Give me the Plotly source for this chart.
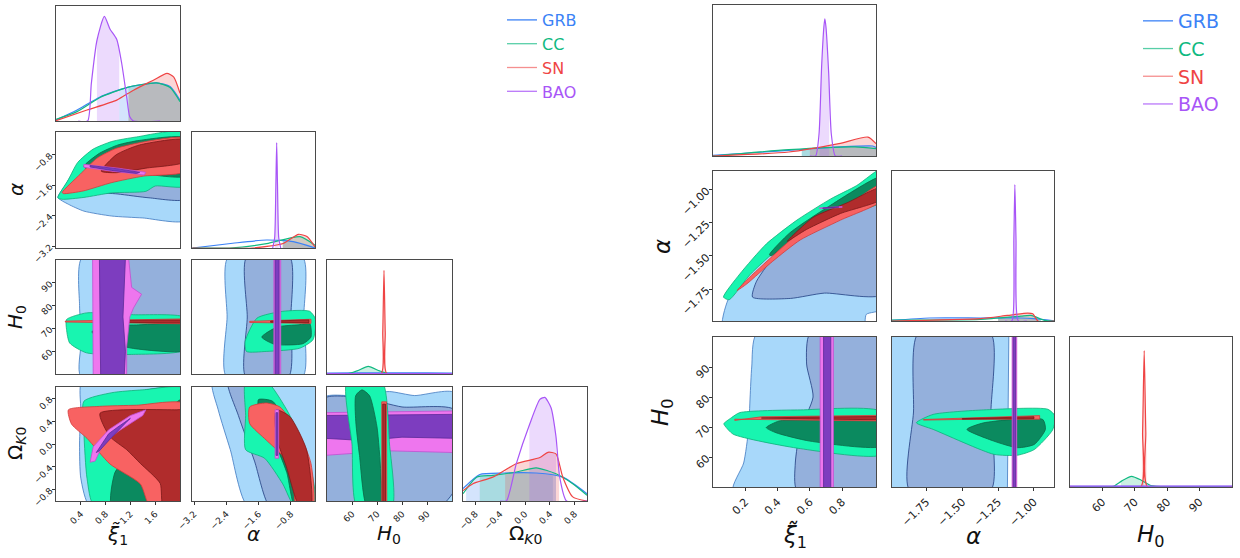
import numpy as np
import plotly.graph_objects as go

W, H = 1240, 558

# ---------------- data: series names / colours ----------------
SERIES = ["GRB", "CC", "SN", "BAO"]
LINE_COL = {"GRB": "#3b82f6", "CC": "#10b981", "SN": "#ef4444", "BAO": "#a855f7"}
FILL_1D = {"GRB": "rgba(59,130,246,0.22)", "CC": "rgba(16,185,129,0.22)",
           "SN": "rgba(239,68,68,0.22)", "BAO": "rgba(168,85,247,0.22)"}
# (2-sigma fill, 1-sigma fill, 2-sigma edge, 1-sigma edge)
CONT = {"GRB": ("#a8d8fa", "#94b0dc", "#3f78c0", "#1f3c80"),
        "CC": ("#18f5b0", "#0b8a5f", "#10b07a", "#0a6a48"),
        "SN": ("#f86262", "#b02c2c", "#d43a3a", "#7a1818"),
        "BAO": ("#ee76ee", "#7d3dbf", "#c24fd0", "#5a2a98")}

# ---------------- tick labels ----------------
L_XI_TICKS = [0.4, 0.8, 1.2, 1.6]; L_XI_TXT = ["0.4", "0.8", "1.2", "1.6"]
L_AL_TICKS = [-3.2, -2.4, -1.6, -0.8]; L_AL_TXT = ["−3.2", "−2.4", "−1.6", "−0.8"]
L_H0_TICKS = [60, 70, 80, 90]; L_H0_TXT = ["60", "70", "80", "90"]
L_OK_TICKS = [-0.8, -0.4, 0.0, 0.4, 0.8]; L_OK_TXT = ["−0.8", "−0.4", "0.0", "0.4", "0.8"]
R_XI_TICKS = [0.2, 0.4, 0.6, 0.8]; R_XI_TXT = ["0.2", "0.4", "0.6", "0.8"]
R_AL_TICKS = [-1.75, -1.5, -1.25, -1.0]; R_AL_TXT = ["−1.75", "−1.50", "−1.25", "−1.00"]
R_H0_TICKS = [60, 70, 80, 90]; R_H0_TXT = ["60", "70", "80", "90"]

# ---------------- 1D marginals (normalised heights) ----------------
L_XI_1D = {
    "GRB": ([0, 0.34, 0.71, 1.14, 1.62, 1.84, 2.0], [0.01, 0.105, 0.23, 0.32, 0.365, 0.33, 0.2]),
    "CC": ([0, 0.34, 0.71, 1.14, 1.62, 1.84, 2.0], [0.016, 0.09, 0.225, 0.32, 0.365, 0.32, 0.185]),
    "SN": ([0, 0.5, 0.98, 1.25, 1.57, 1.79, 1.9, 2.0], [0.003, 0.105, 0.2, 0.295, 0.39, 0.455, 0.42, 0.265]),
    "BAO": ([0.36, 0.51, 0.57, 0.66, 0.78, 0.87, 0.98, 1.06, 1.14, 1.19, 1.25, 1.68],
            [0, 0, 0.36, 0.77, 1.0, 0.88, 0.78, 0.55, 0.23, 0.04, 0, 0]),
}
L_XI_1D_INT = {"GRB": (1.02, 2.0), "CC": (1.17, 2.0), "SN": (1.17, 2.0), "BAO": (0.66, 1.02)}

L_AL_1D = {
    "GRB": ([-3.24, -2.24, -1.40, -0.74, -0.2], [0, 0.045, 0.076, 0.06, 0]),
    "CC": ([-3.24, -2.32, -1.4, -0.57, -0.2], [0, 0, 0.041, 0.108, 0.026]),
    "SN": ([-3.24, -1.74, -0.99, -0.61, -0.4, -0.2], [0, 0, 0.043, 0.13, 0.108, 0.01]),
    "BAO": ([-1.25, -1.20, -1.17, -1.15, -1.13, -1.10, -1.05], [0, 0.1, 0.6, 1.0, 0.6, 0.1, 0]),
}
L_AL_1D_INT = {"GRB": (-1.0, -0.2), "CC": (-1.0, -0.2), "SN": (-1.0, -0.2), "BAO": (-1.2, -1.1)}

L_H0_1D = {
    "GRB": ([50, 60, 70, 80, 90, 100], [0.008, 0.01, 0.012, 0.012, 0.01, 0.008]),
    "CC": ([50, 58, 62, 66.5, 71, 75, 100], [0, 0, 0.03, 0.073, 0.03, 0, 0]),
    "SN": ([50, 71.6, 72.3, 72.8, 73.3, 74.0, 100], [0, 0, 0.4, 1.0, 0.4, 0, 0]),
    "BAO": ([50, 60, 70, 80, 90, 100], [0.003, 0.003, 0.003, 0.003, 0.003, 0.003]),
}
L_H0_1D_INT = {"GRB": (50, 100), "CC": (62, 71), "SN": (72.0, 73.6), "BAO": (50, 100)}

L_OK_1D = {
    "GRB": ([-1, -0.73, -0.35, 0.18, 0.61, 1.0], [0.12, 0.256, 0.27, 0.27, 0.23, 0.07]),
    "CC": ([-1, -0.78, -0.52, -0.14, 0.18, 0.5, 0.77, 1.0], [0.07, 0.23, 0.247, 0.28, 0.32, 0.263, 0.167, 0.055]),
    "SN": ([-1, -0.84, -0.52, -0.14, 0.24, 0.37, 0.5, 0.61, 0.77, 1.0],
           [0.1, 0.167, 0.23, 0.36, 0.42, 0.47, 0.455, 0.23, 0.04, 0]),
    "BAO": ([-0.4, -0.3, -0.14, 0.075, 0.24, 0.32, 0.42, 0.5, 0.56, 0.67, 1.0],
            [0, 0, 0.36, 0.74, 0.98, 1.0, 0.9, 0.62, 0.23, 0, 0]),
}
L_OK_1D_INT = {"GRB": (-0.95, 0.45), "CC": (-0.73, 0.5), "SN": (-0.32, 0.55), "BAO": (0.07, 0.5)}

R_XI_1D = {
    "GRB": ([0, 0.47, 0.78, 0.99, 1.01], [0.005, 0.041, 0.066, 0.073, 0.063]),
    "CC": ([0, 0.47, 0.88, 1.01], [0, 0.046, 0.066, 0.053]),
    "SN": ([0, 0.47, 0.78, 0.96, 1.01], [0, 0.029, 0.09, 0.138, 0.09]),
    "BAO": ([0.6, 0.636, 0.657, 0.673, 0.687, 0.693, 0.70, 0.717, 0.733, 0.758, 0.8],
            [0, 0, 0.16, 0.65, 0.94, 1.0, 0.94, 0.6, 0.16, 0, 0]),
}
R_XI_1D_INT = {"GRB": (0.55, 1.01), "CC": (0.55, 1.01), "SN": (0.6, 1.01), "BAO": (0.66, 0.72)}

R_AL_1D = {
    "GRB": ([-1.99, -1.727, -1.373, -1.09, -1.0, -0.86], [0.005, 0.022, 0.022, 0.022, 0.017, 0.002]),
    "CC": ([-1.99, -1.373, -1.09, -1.02, -0.925, -0.86], [0.007, 0.012, 0.036, 0.041, 0.005, 0]),
    "SN": ([-1.99, -1.373, -1.185, -1.043, -1.008, -0.972, -0.86], [0, 0.017, 0.041, 0.058, 0.053, 0, 0]),
    "BAO": ([-1.2, -1.154, -1.14, -1.133, -1.125, -1.109, -1.05], [0, 0, 0.6, 1.0, 0.6, 0, 0]),
}
R_AL_1D_INT = {"GRB": (-1.25, -0.95), "CC": (-1.25, -0.95), "SN": (-1.25, -0.97), "BAO": (-1.145, -1.12)}

R_H0_1D = {
    "GRB": ([50, 60, 70, 80, 90, 100], [0.005, 0.005, 0.005, 0.005, 0.005, 0.005]),
    "CC": ([50, 60, 63.4, 66, 69, 72, 75, 80, 100], [0, 0, 0.005, 0.045, 0.078, 0.05, 0.01, 0, 0]),
    "SN": ([50, 71.8, 72.4, 72.9, 73.4, 74.0, 100], [0, 0, 0.4, 1.0, 0.4, 0, 0]),
    "BAO": ([50, 60, 70, 80, 90, 100], [0.006, 0.006, 0.006, 0.006, 0.006, 0.006]),
}
R_H0_1D_INT = {"GRB": (50, 100), "CC": (65.7, 72.8), "SN": (72.2, 73.6), "BAO": (50, 100)}

# ---------------- 2D credible regions: [2-sigma polygon, 1-sigma polygon] ----------------
L_XI_AL = {
    "GRB": [[(0.03, -1.92), (0.15, -1.6), (0.3, -1.2), (0.5, -0.85), (0.8, -0.55), (1.2, -0.38), (2.1, -0.3),
             (2.1, -2.52), (1.4, -2.46), (0.9, -2.41), (0.45, -2.28), (0.2, -2.1)],
            [(0.45, -1.25), (0.6, -1.05), (1.0, -0.9), (1.5, -0.72), (2.1, -0.62), (2.1, -1.96), (1.5, -1.93),
             (1.0, -1.83), (0.6, -1.76), (0.45, -1.55)]],
    "CC": [[(0.03, -1.93), (0.2, -1.45), (0.35, -1.0), (0.6, -0.65), (0.9, -0.45), (1.3, -0.33), (2.1, -0.2),
            (2.1, -1.62), (1.6, -1.62), (1.45, -1.76), (0.9, -1.8), (0.45, -1.92), (0.1, -1.97)],
           [(0.45, -1.1), (0.7, -0.76), (1.0, -0.54), (1.35, -0.42), (2.1, -0.36), (2.1, -1.35), (1.4, -1.3),
            (0.9, -1.25), (0.5, -1.18)]],
    "SN": [[(0.1, -1.79), (0.39, -1.31), (0.66, -0.89), (0.97, -0.63), (1.41, -0.46), (2.1, -0.37), (2.1, -1.23),
            (1.41, -1.36), (0.9, -1.53), (0.44, -1.75), (0.12, -1.82)],
           [(0.73, -1.23), (0.97, -0.8), (1.35, -0.54), (2.1, -0.41), (2.1, -0.97), (1.45, -1.15), (0.97, -1.27)]],
    "BAO": [[(0.45, -1.05), (1.0, -1.15), (1.45, -1.26), (1.42, -1.33), (0.9, -1.23), (0.45, -1.13)],
            [(0.55, -1.08), (1.0, -1.17), (1.35, -1.26), (1.3, -1.29), (0.9, -1.21), (0.55, -1.12)]],
}
L_XI_H0 = {
    "GRB": [[(0.42, 101), (2.1, 101), (2.1, 49), (0.40, 49), (0.41, 65), (0.38, 80)],
            [(1.05, 101), (2.1, 101), (2.1, 49), (1.0, 49), (1.1, 58), (1.17, 70), (1.12, 85)]],
    "CC": [[(0.17, 73.9), (0.49, 76.8), (1.25, 76.0), (2.1, 74.6), (2.1, 60.8), (1.25, 58.6), (0.49, 59.3),
            (0.22, 63.6), (0.17, 69.5)],
           [(0.58, 68.5), (0.8, 71), (1.3, 71.5), (2.1, 71.5), (2.1, 60.5), (1.3, 61), (0.8, 64)]],
    "SN": [[(0.15, 73.2), (0.8, 73.6), (2.1, 74.2), (2.1, 72.0), (0.8, 72.4), (0.15, 72.8)],
           [(0.85, 73.5), (2.1, 73.7), (2.1, 72.4), (0.85, 72.7)]],
    "BAO": [[(0.59, 101), (1.17, 101), (1.22, 88), (1.38, 85), (1.25, 79), (1.19, 75), (1.14, 62), (1.14, 49),
             (0.6, 49)],
            [(0.7, 101), (1.12, 101), (1.08, 75), (1.12, 60), (1.1, 49), (0.72, 49)]],
}
L_AL_H0 = {
    "GRB": [[(-2.36, 101), (-0.5, 101), (-0.48, 75), (-0.5, 49), (-2.4, 49), (-2.38, 75)],
            [(-1.9, 101), (-0.82, 101), (-0.8, 75), (-0.85, 49), (-1.92, 49), (-1.88, 75)]],
    "CC": [[(-1.93, 64.4), (-1.64, 74.5), (-1.0, 77.5), (-0.33, 77.5), (-0.18, 73.8), (-0.25, 65), (-0.58, 61.3),
            (-1.41, 59.9), (-1.9, 59.9)],
           [(-1.52, 66.2), (-1.14, 70.6), (-0.6, 71.6), (-0.33, 72.1), (-0.3, 66.2), (-0.5, 63.3), (-1.2, 63)]],
    "SN": [[(-1.82, 73.1), (-0.3, 74.0), (-0.3, 72.2), (-1.82, 72.6)],
           [(-1.3, 73.2), (-0.35, 73.7), (-0.35, 72.5), (-1.3, 72.7)]],
    "BAO": [[(-1.22, 101), (-1.05, 101), (-1.05, 49), (-1.22, 49)],
            [(-1.19, 101), (-1.09, 101), (-1.09, 49), (-1.19, 49)]],
}
L_XI_OK = {
    "GRB": [[(0.42, 1.1), (2.1, 1.1), (2.1, -1.1), (0.55, -1.1), (0.4, -0.6), (0.38, 0), (0.4, 0.6)],
            [(0.95, -1.1), (1.0, -0.3), (0.85, 0.1), (1.05, 0.55), (1.3, 0.9), (2.1, 0.95), (2.1, -1.1)]],
    "CC": [[(0.45, 0.75), (0.9, 0.9), (1.4, 0.95), (2.1, 0.97), (2.1, -1.1), (0.62, -1.1), (0.5, -0.6), (0.45, 0.2)],
           [(0.9, -1.1), (0.95, -0.5), (1.1, -0.3), (1.5, 0.1), (1.7, 0.5), (2.1, 0.82), (2.1, -1.1)]],
    "SN": [[(0.2, 0.6), (0.7, 0.66), (1.3, 0.68), (2.1, 0.7), (2.1, -1.1), (1.52, -1.1), (1.36, -0.7),
            (0.87, -0.35), (0.5, 0.1), (0.25, 0.35)],
           [(0.71, 0.54), (1.95, 0.6), (2.1, 0.6), (2.1, -1.1), (1.73, -1.1), (1.68, -0.69), (1.36, -0.34),
            (1.14, -0.1), (0.87, 0.13)]],
    "BAO": [[(0.55, -0.32), (0.6, -0.05), (0.85, 0.25), (1.2, 0.5), (1.45, 0.6), (1.4, 0.5), (1.0, 0.22),
             (0.75, -0.02), (0.63, -0.3)],
            [(0.65, -0.15), (0.85, 0.18), (1.0, 0.3), (1.2, 0.45), (1.15, 0.4), (0.9, 0.12), (0.7, -0.12)]],
}
L_AL_OK = {
    "GRB": [[(-2.74, 1.1), (-0.1, 1.1), (-0.1, -1.1), (-1.86, -1.1), (-2.3, -0.1), (-2.6, 0.6)],
            [(-2.36, 1.1), (-1.55, 1.1), (-1.2, 0.3), (-0.9, -0.5), (-0.66, -1.1), (-1.32, -1.1), (-1.7, -0.3),
             (-2.1, 0.5)]],
    "CC": [[(-1.92, 1.1), (-1.4, 1.1), (-0.9, 0.6), (-0.5, 0.0), (-0.25, -0.6), (-0.2, -1.1), (-0.7, -1.1),
            (-1.0, -0.7), (-1.45, -0.25), (-1.92, -0.1), (-1.92, 0.5)],
           [(-1.6, 0.78), (-1.25, 0.75), (-0.8, 0.2), (-0.45, -0.5), (-0.4, -1.1), (-0.7, -1.1), (-0.9, -0.5),
            (-1.3, 0.2), (-1.6, 0.6)]],
    "SN": [[(-1.82, 0.65), (-1.41, 0.72), (-1.07, 0.65), (-0.6, 0.2), (-0.3, -0.34), (-0.25, -1.1), (-0.66, -1.1),
            (-0.74, -0.68), (-0.99, -0.22), (-1.41, 0.07), (-1.82, 0.36)],
           [(-1.16, 0.6), (-0.82, 0.48), (-0.41, -0.1), (-0.3, -1.1), (-0.58, -1.1), (-0.91, -0.4), (-1.16, 0.13)]],
    "BAO": [[(-1.19, 0.6), (-1.1, 0.6), (-1.1, -0.25), (-1.19, -0.25)],
            [(-1.165, 0.55), (-1.125, 0.55), (-1.125, -0.2), (-1.165, -0.2)]],
}
L_H0_OK = {
    "GRB": [[(49, -1.1), (101, -1.1), (101, 0.9), (85, 0.85), (75, 0.92), (60, 0.85), (49, 0.82)],
            [(49, -1.1), (95, -1.1), (101, -0.8), (101, 0.6), (80, 0.65), (65, 0.8), (49, 0.8)]],
    "CC": [[(58, 1.1), (72, 1.1), (75, 0), (76, -1.1), (62, -1.1), (60, 0)],
           [(61.5, 0.85), (64, 0.95), (67, 0.85), (70, 0.3), (71.5, -0.5), (71.5, -1.1), (66, -1.1), (63, -0.2),
            (61.5, 0.4)]],
    "SN": [[(71.9, 0.74), (73.8, 0.74), (73.9, -1.1), (71.9, -1.1)],
           [(72.3, 0.7), (73.4, 0.7), (73.4, -1.1), (72.3, -1.1)]],
    "BAO": [[(49, 0.55), (75, 0.57), (101, 0.58), (101, -0.15), (75, -0.12), (49, -0.2)],
            [(49, 0.5), (75, 0.51), (101, 0.52), (101, 0.1), (80, 0.12), (65, 0.06), (49, 0.1)]],
}
R_XI_AL = {
    "GRB": [[(0.062, -2.05), (0.093, -1.83), (0.23, -1.6), (0.41, -1.4), (0.62, -1.25), (0.83, -1.15),
             (1.05, -1.09), (1.05, -1.9), (0.95, -1.94), (0.93, -2.05)],
            [(0.245, -1.81), (0.27, -1.69), (0.41, -1.46), (0.62, -1.28), (0.83, -1.18), (1.05, -1.12),
             (1.05, -1.79), (0.69, -1.78), (0.48, -1.82)]],
    "CC": [[(0.065, -1.81), (0.166, -1.636), (0.33, -1.41), (0.52, -1.23), (0.73, -1.07), (0.89, -0.97),
            (1.05, -0.84), (1.05, -1.09), (0.83, -1.18), (0.62, -1.28), (0.41, -1.44), (0.23, -1.64), (0.1, -1.83)],
           [(0.35, -1.49), (0.475, -1.327), (0.685, -1.152), (1.05, -0.9), (1.05, -1.05), (0.79, -1.17),
            (0.54, -1.33), (0.36, -1.5)]],
    "SN": [[(0.15, -1.76), (0.21, -1.68), (0.37, -1.5), (0.54, -1.32), (0.79, -1.155), (1.05, -0.955),
            (1.05, -1.08), (0.79, -1.23), (0.54, -1.38), (0.37, -1.54), (0.21, -1.71)],
           [(0.46, -1.39), (0.62, -1.21), (0.83, -1.1), (1.05, -0.98), (1.05, -1.07), (0.79, -1.18), (0.58, -1.3)]],
    "BAO": [[(0.66, -1.138), (0.8, -1.128), (0.8, -1.134), (0.66, -1.144)],
            [(0.68, -1.139), (0.78, -1.131), (0.78, -1.133), (0.68, -1.141)]],
}
R_XI_H0 = {
    "GRB": [[(0.27, 101), (1.05, 101), (1.05, 49), (0.125, 49), (0.19, 58), (0.22, 69), (0.23, 80), (0.24, 90)],
            [(0.6, 101), (1.05, 101), (1.05, 49), (0.52, 49), (0.51, 58), (0.54, 69), (0.62, 80), (0.58, 91)]],
    "CC": [[(0.067, 71.1), (0.114, 73.1), (0.166, 74.8), (0.54, 75.7), (1.05, 75.0), (1.05, 60.9), (0.54, 62.8),
            (0.125, 67.6), (0.075, 70.3)],
           [(0.33, 69.8), (0.41, 72.0), (0.7, 72.4), (1.05, 72.5), (1.05, 63.7), (0.6, 65.3), (0.39, 68.1)]],
    "SN": [[(0.135, 72.2), (0.3, 73.4), (0.6, 73.6), (1.05, 73.9), (1.05, 72.0), (0.6, 72.4), (0.135, 72.6)],
           [(0.3, 73.0), (0.6, 73.3), (1.05, 73.5), (1.05, 72.4), (0.6, 72.7), (0.3, 72.8)]],
    "BAO": [[(0.664, 101), (0.746, 101), (0.746, 49), (0.664, 49)],
            [(0.685, 101), (0.73, 101), (0.73, 49), (0.685, 49)]],
}
R_AL_H0 = {
    "GRB": [[(-2.1, 101), (-1.175, 101), (-1.18, 75), (-1.185, 49), (-2.1, 49)],
            [(-1.81, 101), (-1.30, 101), (-1.3, 75), (-1.30, 49), (-1.868, 49), (-1.84, 75)]],
    "CC": [[(-1.82, 71.4), (-1.703, 74.2), (-1.35, 75.7), (-0.902, 75.9), (-0.85, 73.5), (-0.87, 69),
            (-0.997, 62.5), (-1.114, 60.6), (-1.28, 60.9), (-1.703, 69.2)],
           [(-1.467, 69.2), (-1.35, 71.4), (-0.938, 72.5), (-0.92, 69.2), (-0.997, 64.2), (-1.114, 63.1),
            (-1.28, 65.3)]],
    "SN": [[(-1.77, 72.5), (-1.4, 73.2), (-0.96, 73.8), (-0.96, 72.6), (-1.4, 72.6), (-1.77, 72.3)],
           [(-1.5, 72.8), (-1.0, 73.4), (-1.0, 72.8), (-1.5, 72.6)]],
    "BAO": [[(-1.152, 101), (-1.12, 101), (-1.12, 49), (-1.152, 49)],
            [(-1.145, 101), (-1.128, 101), (-1.128, 49), (-1.145, 49)]],
}

# ---------------- layout geometry (pixels) ----------------
L_COLS = [(56, 180), (192, 315), (327, 452), (463, 587)]
L_ROWS = [(6, 121), (132, 248), (260, 374), (387, 501)]
R_COLS = [(713, 876), (892, 1054), (1070, 1232)]
R_ROWS = [(5, 156), (171, 321), (337, 487)]
L_RANGES = [(0, 2), (-3.25, -0.2), (50, 100), (-1, 1)]
R_RANGES = [(0, 1.01), (-1.99, -0.86), (50, 100)]
L_TICKS = [(L_XI_TICKS, L_XI_TXT), (L_AL_TICKS, L_AL_TXT), (L_H0_TICKS, L_H0_TXT), (L_OK_TICKS, L_OK_TXT)]
R_TICKS = [(R_XI_TICKS, R_XI_TXT), (R_AL_TICKS, R_AL_TXT), (R_H0_TICKS, R_H0_TXT)]

fig = go.Figure()
layout = dict(width=W, height=H, margin=dict(l=0, r=0, t=0, b=0, autoexpand=False), paper_bgcolor="white",
              plot_bgcolor="white", font=dict(family="DejaVu Sans", color="#222"))
axis_n = [0]


def new_axes(xbox, ybox, xr, yr, xt, yt, tfs):
    axis_n[0] += 1
    n = axis_n[0]
    sx = "" if n == 1 else str(n)
    common = dict(showgrid=False, zeroline=False, showline=True, mirror=True, linecolor="#4a4a4a",
                  linewidth=1.4, tickangle=-45, ticklen=3, tickwidth=1, tickcolor="#333", automargin=False,
                  tickfont=dict(size=tfs, color="#222", family="DejaVu Sans"))
    xa = dict(common, domain=[xbox[0] / W, xbox[1] / W], range=list(xr), anchor="y" + sx)
    ya = dict(common, domain=[1 - ybox[1] / H, 1 - ybox[0] / H], range=list(yr), anchor="x" + sx)
    for ax, t in ((xa, xt), (ya, yt)):
        if t is None:
            ax.update(showticklabels=False, ticks="")
        else:
            ax.update(tickmode="array", tickvals=t[0], ticktext=t[1], ticks="outside")
    layout["xaxis" + sx] = xa
    layout["yaxis" + sx] = ya
    return "x" + sx, "y" + sx


def draw_1d(curves, intervals, xa, ya):
    for s in SERIES:
        X, Y = curves[s]
        a, b = intervals[s]
        xs = [a] + [x for x in X if a < x < b] + [b]
        ys = list(np.interp(xs, X, Y))
        fig.add_trace(go.Scatter(x=xs, y=ys, mode="lines", fill="tozeroy", fillcolor=FILL_1D[s],
                                 line=dict(width=0, shape="spline", smoothing=0.6), xaxis=xa, yaxis=ya,
                                 showlegend=False, hoverinfo="skip"))
    for s in SERIES:
        X, Y = curves[s]
        fig.add_trace(go.Scatter(x=X, y=Y, mode="lines", line=dict(color=LINE_COL[s], width=1.2,
                                                                    shape="spline", smoothing=0.6),
                                 xaxis=xa, yaxis=ya, showlegend=False, hoverinfo="skip"))


def draw_2d(polys, xa, ya, order=SERIES, linear=("BAO",)):
    for s in order:
        for lev in (0, 1):
            pts = polys[s][lev]
            xs = [p[0] for p in pts] + [pts[0][0]]
            ys = [p[1] for p in pts] + [pts[0][1]]
            lin = s in linear or len(pts) <= 5
            shape = dict(shape="linear") if lin else dict(shape="spline", smoothing=0.6)
            fig.add_trace(go.Scatter(x=xs, y=ys, mode="lines", fill="toself", fillcolor=CONT[s][lev],
                                     line=dict(color=CONT[s][2 + lev], width=0.8, **shape),
                                     xaxis=xa, yaxis=ya, showlegend=False, hoverinfo="skip"))


# ---------------- left corner plot ----------------
L_1D = [(L_XI_1D, L_XI_1D_INT), (L_AL_1D, L_AL_1D_INT), (L_H0_1D, L_H0_1D_INT), (L_OK_1D, L_OK_1D_INT)]
L_2D = {(1, 0): L_XI_AL, (2, 0): L_XI_H0, (2, 1): L_AL_H0, (3, 0): L_XI_OK, (3, 1): L_AL_OK, (3, 2): L_H0_OK}
for r in range(4):
    for c in range(r + 1):
        xt = L_TICKS[c] if r == 3 else None
        if r == c:
            xa, ya = new_axes(L_COLS[c], L_ROWS[r], L_RANGES[c], (0, 1.1), xt, None, 9)
            draw_1d(L_1D[r][0], L_1D[r][1], xa, ya)
        else:
            yt = L_TICKS[r] if c == 0 else None
            xa, ya = new_axes(L_COLS[c], L_ROWS[r], L_RANGES[c], L_RANGES[r], xt, yt, 9)
            if (r, c) == (3, 2):
                draw_2d(L_2D[(r, c)], xa, ya, order=["GRB", "BAO", "CC", "SN"], linear=("BAO", "SN"))
            elif r == 2:
                draw_2d(L_2D[(r, c)], xa, ya, linear=("BAO", "SN"))
            else:
                draw_2d(L_2D[(r, c)], xa, ya)

# ---------------- right corner plot ----------------
R_1D = [(R_XI_1D, R_XI_1D_INT), (R_AL_1D, R_AL_1D_INT), (R_H0_1D, R_H0_1D_INT)]
R_2D = {(1, 0): R_XI_AL, (2, 0): R_XI_H0, (2, 1): R_AL_H0}
for r in range(3):
    for c in range(r + 1):
        xt = R_TICKS[c] if r == 2 else None
        if r == c:
            xa, ya = new_axes(R_COLS[c], R_ROWS[r], R_RANGES[c], (0, 1.1), xt, None, 11)
            draw_1d(R_1D[r][0], R_1D[r][1], xa, ya)
        else:
            yt = R_TICKS[r] if c == 0 else None
            xa, ya = new_axes(R_COLS[c], R_ROWS[r], R_RANGES[c], R_RANGES[r], xt, yt, 11)
            draw_2d(R_2D[(r, c)], xa, ya, linear=("BAO",) if r == 1 else ("BAO", "SN"))

# ---------------- legends ----------------
LEG_LINE = {"GRB": "#3b82f6", "CC": "rgba(16,185,129,0.7)", "SN": "rgba(239,68,68,0.6)",
            "BAO": "rgba(168,85,247,0.8)"}
for lg in ("legend", "legend2"):
    for s in SERIES:
        fig.add_trace(go.Scatter(x=[None], y=[None], mode="lines", line=dict(color=LEG_LINE[s], width=1.3),
                                 name=f'<span style="color:{LINE_COL[s]}">{s}</span>', legend=lg,
                                 xaxis="x", yaxis="y", hoverinfo="skip"))
layout["showlegend"] = True
layout["legend"] = dict(x=502 / W, y=1 - 3 / H, xanchor="left", yanchor="top", bgcolor="rgba(0,0,0,0)",
                        font=dict(size=16, family="DejaVu Sans"), itemwidth=30, tracegroupgap=0)
layout["legend2"] = dict(x=1138 / W, y=1 - 2 / H, xanchor="left", yanchor="top", bgcolor="rgba(0,0,0,0)",
                         font=dict(size=19, family="DejaVu Sans"), itemwidth=30, tracegroupgap=0)

# ---------------- axis titles ----------------
XI_T = "<i>ξ̃</i><sub>1</sub>"
AL_T = "<i>α</i>"
H0_T = "<i>H</i><sub>0</sub>"
OK_T = "Ω<sub><i>K</i>0</sub>"
ann = []
for (x0, x1), t in zip(L_COLS, [XI_T, AL_T, H0_T, OK_T]):
    ann.append(dict(x=(x0 + x1) / 2 / W, y=1 - 534 / H, text=t, font=dict(size=20)))
for (y0, y1), t in zip(L_ROWS[1:], [AL_T, H0_T, OK_T]):
    ann.append(dict(x=16 / W, y=1 - (y0 + y1) / 2 / H, text=t, textangle=-90, font=dict(size=20)))
for (x0, x1), t in zip(R_COLS, [XI_T, AL_T, H0_T]):
    ann.append(dict(x=(x0 + x1) / 2 / W, y=1 - 536 / H, text=t, font=dict(size=23)))
for (y0, y1), t in zip(R_ROWS[1:], [AL_T, H0_T]):
    ann.append(dict(x=662 / W, y=1 - (y0 + y1) / 2 / H, text=t, textangle=-90, font=dict(size=23)))
for a in ann:
    a.update(xref="paper", yref="paper", showarrow=False, xanchor="center", yanchor="middle")
    a["font"].update(family="DejaVu Sans", color="#111")
layout["annotations"] = ann

fig.update_layout(**layout)
fig.write_html("out.html", config={"displayModeBar": False},
               post_script="document.body.style.margin='0';")
